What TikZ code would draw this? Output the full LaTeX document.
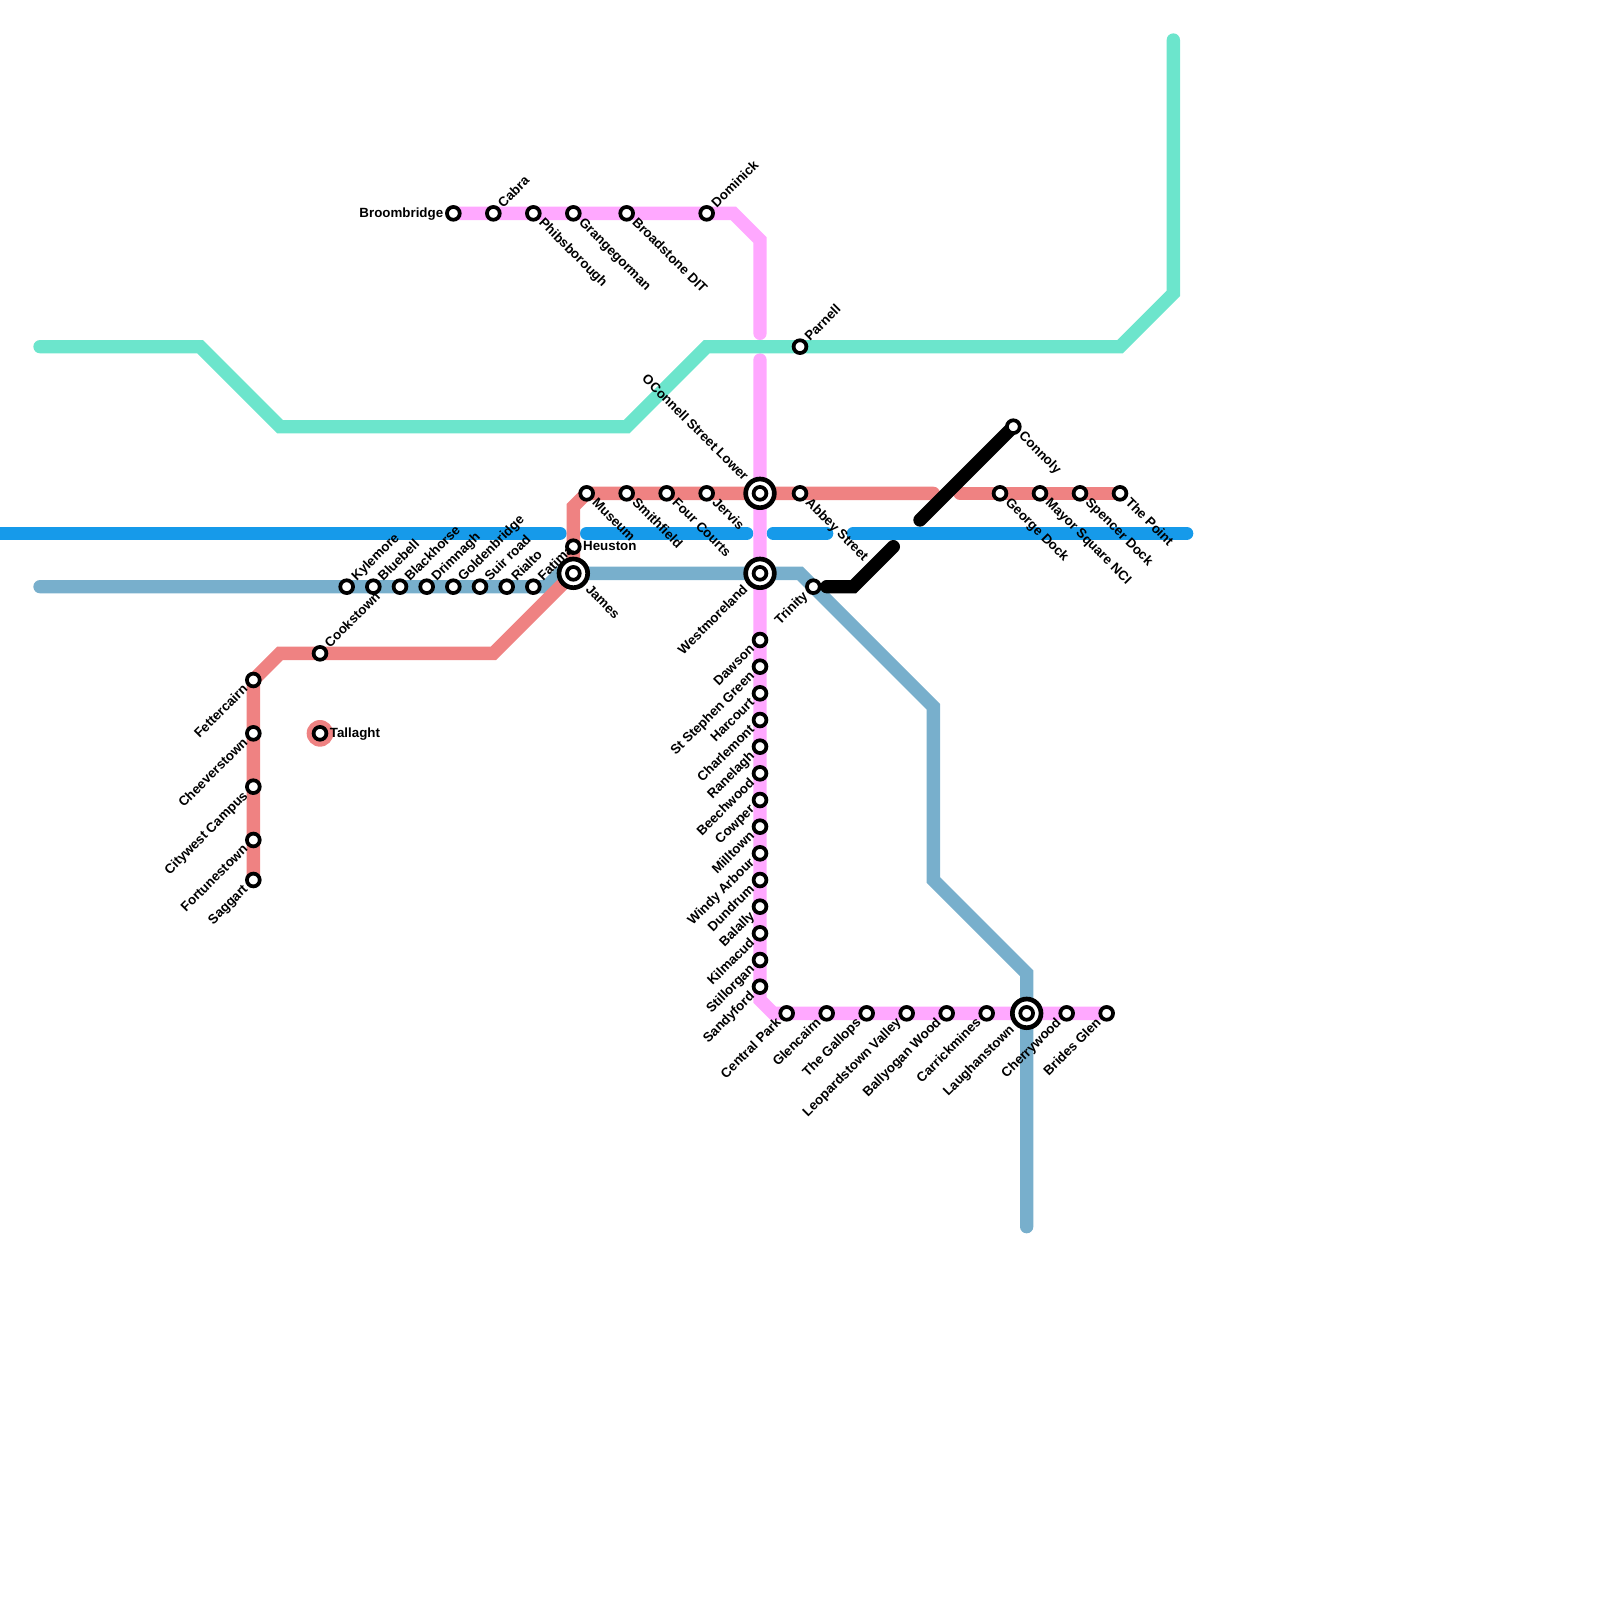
\documentclass[tikz,border=0pt]{standalone}
\usepackage{fontspec}
\setmainfont{Liberation Sans}
\pgfdeclarelayer{lines}
\pgfsetlayers{lines,main}
\definecolor{cblue}{HTML}{169AEA}
\definecolor{cteal}{HTML}{6CE5CC}
\definecolor{cpink}{HTML}{FFA8FF}
\definecolor{cred}{HTML}{EF8282}
\definecolor{csteel}{HTML}{78AFCC}
\tikzset{
  metro/.style={line width=10pt,line cap=round,line join=miter},
  stn/.style={circle,draw=black,line width=2.8pt,fill=white,minimum size=9.6pt,inner sep=0pt,outer sep=0pt},
  hub/.style={circle,draw=black,line width=3.5pt,fill=white,minimum size=21.5pt,inner sep=0pt,outer sep=0pt},
  lab/.style={font=\bfseries\fontsize{10}{11}\selectfont,text=black,inner ysep=0pt,inner xsep=7.8pt,text height=5.5pt,text depth=0pt},
  lur/.style={lab,rotate=45,anchor=west},
  ldr/.style={lab,rotate=-45,anchor=west},
  ldl/.style={lab,rotate=45,anchor=east},
  lul/.style={lab,rotate=-45,anchor=east},
  lr/.style={lab,anchor=west,inner xsep=7.2pt},
  ll/.style={lab,anchor=east,inner xsep=7.4pt},
  far/.style={inner xsep=15pt},
}
\begin{document}
\begin{tikzpicture}[x=10pt,y=-10pt]
\useasboundingbox (0,0) rectangle (120,120);
% interchange rings
\node[hub] (jamesO) at (43,43) {};
\node[hub] (oconnellO) at (57,37) {};
\node[hub] (westO) at (57,43) {};
\node[hub] (laughO) at (77,76) {};
\node[circle,fill=cred,minimum size=20pt,inner sep=0pt] (tallaghtO) at (24,55) {};
% stations
\foreach \n/\x/\y in {
 heuston/43/41,james/43/43,museum/44/37,smithfield/47/37,fourcourts/50/37,jervis/53/37,oconnell/57/37,
 west/57/43,abbey/60/37,trinity/61/44,dawson/57/48,ststephen/57/50,harcourt/57/52,charlemont/57/54,
 ranelagh/57/56,beechwood/57/58,cowper/57/60,milltown/57/62,windy/57/64,dundrum/57/66,balally/57/68,
 kilmacud/57/70,stillorgan/57/72,sandyford/57/74,central/59/76,glencairn/62/76,gallops/65/76,
 leopards/68/76,ballyogan/71/76,carrick/74/76,laugh/77/76,cherry/80/76,brides/83/76,
 connolly/76/32,george/75/37,mayor/78/37,spencer/81/37,point/84/37,parnell/60/26,
 broom/34/16,cabra/37/16,phibs/40/16,grange/43/16,broadstone/47/16,dominick/53/16,
 kylemore/26/44,bluebell/28/44,blackhorse/30/44,drimnagh/32/44,golden/34/44,suir/36/44,rialto/38/44,fatima/40/44,
 cookstown/24/49,fetter/19/51,cheever/19/55,citywest/19/59,fortune/19/63,saggart/19/66,tallaght/24/55}
  {\node[stn] (\n) at (\x,\y) {};}
% corners and free ends
\coordinate (bA) at (-1,40); \coordinate (bB) at (42,40);
\coordinate (bC) at (44,40); \coordinate (bD) at (56,40);
\coordinate (bE) at (58,40); \coordinate (bF) at (62,40);
\coordinate (bG) at (64,40); \coordinate (bH) at (89,40);
\coordinate (tA) at (3,26); \coordinate (tB) at (15,26); \coordinate (tC) at (21,32);
\coordinate (tD) at (47,32); \coordinate (tE) at (53,26); \coordinate (tF) at (84,26);
\coordinate (tG) at (88,22); \coordinate (tH) at (88,3);
\coordinate (sA) at (3,44); \coordinate (sB) at (41,44); \coordinate (sC) at (42,43);
\coordinate (sD) at (60,43); \coordinate (sE) at (70,53); \coordinate (sF) at (70,66);
\coordinate (sG) at (77,73); \coordinate (sH) at (77,92);
\coordinate (rA) at (21,49); \coordinate (rB) at (37,49); \coordinate (rC) at (43,38);
\coordinate (rD) at (70,37); \coordinate (rE) at (72,37);
\coordinate (pA) at (55,16); \coordinate (pB) at (57,18); \coordinate (pC) at (57,25);
\coordinate (pD) at (57,27); \coordinate (pE) at (57,75); \coordinate (pF) at (58,76);
\coordinate (kA) at (62,44); \coordinate (kB) at (64,44); \coordinate (kC) at (67,41); \coordinate (kD) at (69,39);
\begin{pgfonlayer}{lines}
\draw[metro,cblue] (bA)--(bB);
\draw[metro,cblue] (bC)--(bD);
\draw[metro,cblue] (bE)--(bF);
\draw[metro,cblue] (bG)--(bH);
\draw[metro,csteel] (sA)--(sB)--(sC)--(sD)--(sE)--(sF)--(sG)--(sH);
\draw[metro,cred] (saggart.center)--(fetter.center)--(rA)--(rB)--(james.center)--(rC)--(museum.center)--(rD);
\draw[metro,cred] (rE)--(point.center);
\draw[metro,cpink] (broom.center)--(pA)--(pB)--(pC);
\draw[metro,cpink] (pD)--(pE)--(pF)--(brides.center);
\draw[metro,cteal] (tA)--(tB)--(tC)--(tD)--(tE)--(tF)--(tG)--(tH);
\draw[metro,black] (kA)--(kB)--(kC);
\draw[metro,black] (kD)--(connolly.center);
\end{pgfonlayer}
% labels
\foreach \n/\t in {cabra/Cabra,dominick/Dominick,parnell/Parnell,kylemore/Kylemore,bluebell/Bluebell,
 blackhorse/Blackhorse,drimnagh/Drimnagh,golden/Goldenbridge,suir/Suir road,rialto/Rialto,fatima/Fatima,cookstown/Cookstown}
  {\node[lur] (\n-l) at (\n) {\t};}
\foreach \n/\t in {phibs/Phibsborough,grange/Grangegorman,broadstone/Broadstone DIT,museum/Museum,smithfield/Smithfield,
 fourcourts/Four Courts,jervis/Jervis,abbey/Abbey Street,connolly/Connoly,george/George Dock,mayor/Mayor Square NCI,
 spencer/Spencer Dock,point/The Point}
  {\node[ldr] (\n-l) at (\n) {\t};}
\foreach \n/\t in {fetter/Fettercairn,cheever/Cheeverstown,citywest/Citywest Campus,fortune/Fortunestown,saggart/Saggart,
 trinity/Trinity,dawson/Dawson,ststephen/St Stephen Green,harcourt/Harcourt,charlemont/Charlemont,ranelagh/Ranelagh,
 beechwood/Beechwood,cowper/Cowper,milltown/Milltown,windy/Windy Arbour,dundrum/Dundrum,balally/Balally,kilmacud/Kilmacud,
 stillorgan/Stillorgan,sandyford/Sandyford,central/Central Park,glencairn/Glencairn,gallops/The Gallops,
 leopards/Leopardstown Valley,ballyogan/Ballyogan Wood,carrick/Carrickmines,cherry/Cherrywood,brides/Brides Glen}
  {\node[ldl] (\n-l) at (\n) {\t};}
\node[ldl,far] (west-l) at (west) {Westmoreland};
\node[ldl,far] (laugh-l) at (laugh) {Laughanstown};
\node[ldr,far] (james-l) at (james) {James};
\node[lul,far] (oconnell-l) at (oconnell) {OConnell Street Lower};
\node[lr] (heuston-l) at (heuston) {Heuston};
\node[lr] (tallaght-l) at (tallaght) {Tallaght};
\node[ll] (broom-l) at (broom) {Broombridge};
\end{tikzpicture}
\end{document}
